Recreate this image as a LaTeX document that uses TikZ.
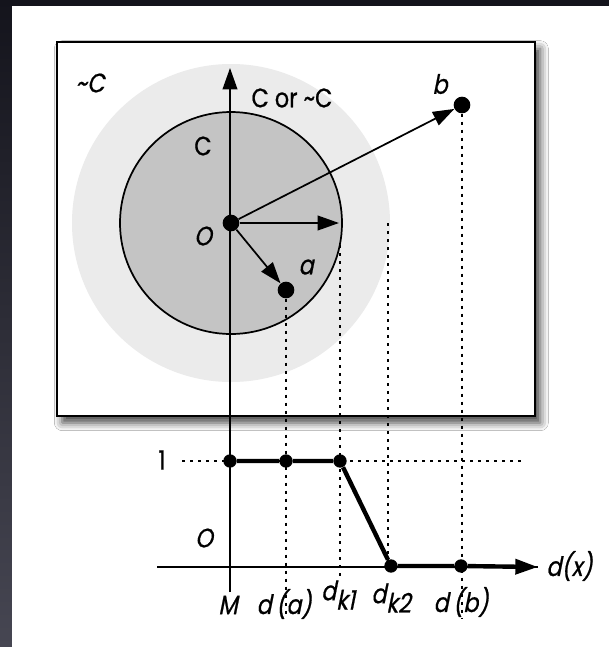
\documentclass[tikz,border=0pt]{standalone}
\usepackage{fontspec}
\setmainfont{Poppins}[FakeStretch=0.84, FakeBold=0.7]
\newfontfamily\obl{Poppins}[FakeSlant=0.2, FakeStretch=0.84, FakeBold=0.7]
\usetikzlibrary{arrows.meta,shadows.blur}
\definecolor{lightdisc}{RGB}{235,235,235}
\definecolor{darkdisc}{RGB}{196,196,196}
\definecolor{bgtop}{RGB}{20,20,28}
\definecolor{bgbot}{RGB}{70,70,82}
\tikzset{
  lab/.style={font=\obl\fontsize{20}{22}\selectfont, inner sep=0pt},
  ulab/.style={font=\fontsize{20}{22}\selectfont, inner sep=0pt},
  bigdot/.style={circle, fill=black, inner sep=0pt, minimum size=12.5pt},
  smalldot/.style={circle, fill=black, inner sep=0pt, minimum size=10pt},
  axisline/.style={line width=1.3pt},
  arr/.style={line width=1.3pt, -{Triangle[length=16pt,width=11pt,fill=black]}},
  dotline/.style={line width=1.8pt, dash pattern=on 2.4pt off 3.6pt},
  curve/.style={line width=3.3pt},
}
\begin{document}
\begin{tikzpicture}[x=0.75pt,y=-0.75pt]
\useasboundingbox (0,0) rectangle (609,647);
% background
\shade[top color=bgtop, bottom color=bgbot] (0,0) rectangle (609,647);
\fill[white] (12,6) rectangle (609,647);
% box
\draw[line width=1.8pt, fill=white, blur shadow={shadow xshift=4pt, shadow yshift=-5pt, shadow blur radius=6pt, shadow opacity=75}] (57,42) rectangle (535,416);
% discs
\fill[lightdisc] (231,223) circle (159);
\draw[line width=1.3pt, fill=darkdisc] (231,223) circle (111);
% coordinates
\coordinate (ytop) at (230,68);
\coordinate (ybot) at (230,592);
\coordinate (r) at (339,223);
\coordinate (xl) at (157,567);
\coordinate (xend) at (538,567);
% vertical axis
\draw[axisline, -{Triangle[length=16pt,width=11pt,fill=black]}] (ybot) -- (ytop);
% points
\node[bigdot] (O) at (231,223) {};
\node[bigdot] (a) at (286,290) {};
\node[bigdot] (b) at (462,105) {};
% dotted verticals
\coordinate (ka) at (286,618);
\coordinate (k1t) at (340,245);
\coordinate (k1b) at (340,577);
\coordinate (k2t) at (388,223);
\coordinate (k2b) at (388,567);
\coordinate (kb) at (462,618);
\draw[dotline] (a) -- (ka);
\draw[dotline] (k1t) -- (k1b);
\draw[dotline] (k2t) -- (k2b);
\draw[dotline] (b) -- (kb);
\coordinate (h1l) at (182,461);
\coordinate (h1r) at (524,461);
\draw[dotline] (h1l) -- (h1r);
% arrows from O
\draw[arr] (O) -- (b);
\draw[arr] (O) -- (r);
\draw[arr] (O) -- (a);
% plot
\draw[axisline] (xl) -- (xend);
\node[smalldot] (p0) at (230,461) {};
\node[smalldot] (pa) at (286,461) {};
\node[smalldot] (pk1) at (340,461) {};
\node[smalldot] (pk2) at (391,566) {};
\node[smalldot] (pb) at (461,566) {};
\draw[curve] (p0) -- (pa) -- (pk1) -- (pk2) -- (pb);
\draw[curve, -{Triangle[length=17pt,width=11pt,fill=black]}] (pb) -- (xend);
% labels
\node[lab] (nc) at (90,83) {\textasciitilde C};
\node[ulab] (corc) at (292,98) {C or \textasciitilde C};
\node[ulab] (cl) at (203,146) {C};
\node[lab] (ol) at (203,236) {O};
\node[lab] (al) at (306,267) {a};
\node[lab] (bl) at (440,84) {b};
\node[ulab] (one) at (162,460) {1};
\node[lab] (o2) at (204,538) {O};
\node[lab] (ml) at (228,605) {M};
\node[lab] (dal) at (284,604) {d\,(a)};
\node[lab] (dk1) at (338,595) {d\raisebox{-7pt}{k\upshape 1}};
\node[lab] (dk2) at (391,598) {d\raisebox{-7pt}{k\upshape 2}};
\node[lab] (dbl) at (461,602) {d\,(b)};
\node[lab, anchor=west] (dx) at (546,566) {d(x)};
\end{tikzpicture}
\end{document}
